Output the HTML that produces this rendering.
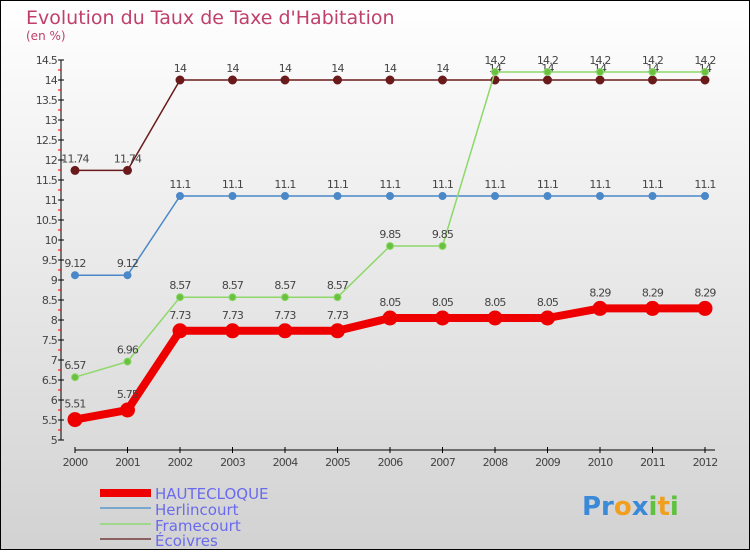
<!DOCTYPE html>
<html><head><meta charset="utf-8"><style>
body{margin:0}
svg text{font-family:"DejaVu Sans","Liberation Sans",sans-serif}
</style></head><body>
<svg xmlns="http://www.w3.org/2000/svg" width="750" height="550" viewBox="0 0 750 550">
<defs><linearGradient id="bg" x1="0" y1="0" x2="0" y2="1"><stop offset="0" stop-color="#ffffff"/><stop offset="1" stop-color="#d2d2d2"/></linearGradient></defs>
<rect x="0.5" y="0.5" width="749" height="549" fill="url(#bg)" stroke="#000"/>
<text x="26" y="24" font-size="19" fill="#c0406a">Evolution du Taux de Taxe d'Habitation</text>
<text x="26" y="40" font-size="12" fill="#c0406a">(en %)</text>
<g id="axes"></g>
<g id="series"></g>
<g>
<rect x="100" y="489" width="51" height="8" fill="#e00"/>
<text x="155" y="499" font-size="15" fill="#6a6aee">HAUTECLOQUE</text>
<rect x="100" y="507" width="51" height="2" fill="#7aa8cc"/>
<text x="155" y="515" font-size="15" fill="#6a6aee">Herlincourt</text>
<rect x="100" y="523" width="51" height="2" fill="#9fd88a"/>
<text x="155" y="531" font-size="15" fill="#6a6aee">Framecourt</text>
<rect x="100" y="538" width="51" height="2" fill="#8a6060"/>
<text x="155" y="546" font-size="15" fill="#6a6aee">Écoivres</text>
</g>
<g font-size="26" font-weight="bold">
<text x="582" y="515"><tspan fill="#3a8ad8">Pr</tspan><tspan fill="#f0a020">o</tspan><tspan fill="#3a8ad8">x</tspan><tspan fill="#60c040">i</tspan><tspan fill="#f0a020">t</tspan><tspan fill="#60c040">i</tspan></text>
</g>
</svg>
<script>
const years=["2000","2001","2002","2003","2004","2005","2006","2007","2008","2009","2010","2011","2012"];
const yTicks=[5,5.5,6,6.5,7,7.5,8,8.5,9,9.5,10,10.5,11,11.5,12,12.5,13,13.5,14,14.5];
const hautecloque=[5.51,5.75,7.73,7.73,7.73,7.73,8.05,8.05,8.05,8.05,8.29,8.29,8.29];
const herlincourt=[9.12,9.12,11.1,11.1,11.1,11.1,11.1,11.1,11.1,11.1,11.1,11.1,11.1];
const framecourt=[6.57,6.96,8.57,8.57,8.57,8.57,9.85,9.85,14.2,14.2,14.2,14.2,14.2];
const ecoivres=[11.74,11.74,14,14,14,14,14,14,14,14,14,14,14];
const NS="http://www.w3.org/2000/svg";
const X=i=>75+i*52.5;
const Y=v=>440-(v-5)*40;
function mk(tag,attrs,parent,txt){const e=document.createElementNS(NS,tag);for(const k in attrs)e.setAttribute(k,attrs[k]);if(txt!==undefined)e.textContent=txt;parent.appendChild(e);return e;}
const ax=document.getElementById('axes');
let l=mk('line',{x1:61,y1:Y(14.5),x2:61,y2:Y(5),stroke:'#000'},ax);


l=mk('line',{x1:75,y1:450,x2:715,y2:450,stroke:'#000'},ax);


yTicks.forEach(v=>{
  const t=mk('line',{x1:58,y1:Y(v),x2:64,y2:Y(v),stroke:'#000'},ax);
  
  
  if(v<14.5){
    const m=mk('line',{x1:58,y1:Y(v+0.25),x2:61,y2:Y(v+0.25),stroke:'#e00'},ax);
    
    
  }
  const tx=mk('text',{x:57,y:Y(v)+4,'font-size':11,fill:'#444','text-anchor':'end','letter-spacing':'-0.8'},ax,String(v));
  
  
});
years.forEach((yr,i)=>{
  const t=mk('line',{x1:X(i),y1:447,x2:X(i),y2:453,stroke:'#000'},ax);
  
  
  const tx=mk('text',{x:X(i),y:466,'font-size':11,fill:'#444','text-anchor':'middle','letter-spacing':'-0.8'},ax,yr);
  
  
});
const sg=document.getElementById('series');
function draw(name,vals,color,fill,w,r,dy){
  const g=mk('g',{},sg);
  
  
  const p=mk('polyline',{points:vals.map((v,i)=>X(i)+','+Y(v)).join(' '),fill:'none',stroke:color,'stroke-width':w,'stroke-linejoin':'round'},g);
  
  
  vals.forEach((v,i)=>{
    const c=mk('circle',{cx:X(i),cy:Y(v),r:r,fill:fill,stroke:color,'stroke-width':1},g);
    
    
    const t=mk('text',{x:X(i),y:Y(v)-dy,'font-size':11,fill:'#444','text-anchor':'middle','letter-spacing':'-0.8'},g,String(v));
    
    
  });
}
draw('ecoivres',ecoivres,'#6a1a1a','#6a1a1a',1.5,4,8);
draw('herlincourt',herlincourt,'#4a88c8','#4a88c8',1.5,3.5,8);
draw('framecourt',framecourt,'#8ed86a','#6ac040',1.5,3.5,8);
draw('hautecloque',hautecloque,'#ee0000','#ee0000',8,7,12);
</script>
</body></html>
